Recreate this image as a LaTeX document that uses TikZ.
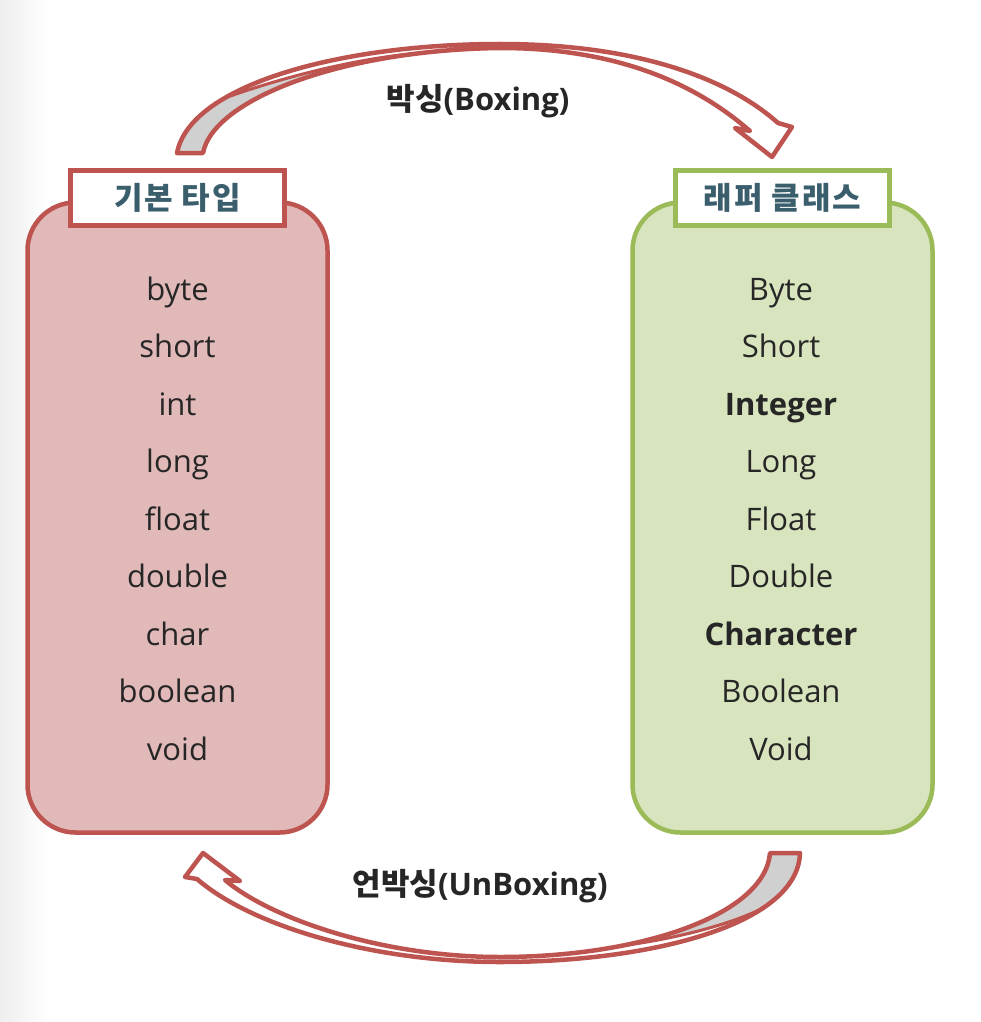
\documentclass[tikz,border=0pt]{standalone}
\usepackage{fontspec}
\setmainfont{Open Sans}
\newfontfamily\kr{Noto Sans CJK KR}
\newfontfamily\krh[LetterSpace=6]{Noto Sans CJK KR}
\definecolor{redline}{HTML}{BE5450}
\definecolor{pinkfill}{HTML}{E0B9B8}
\definecolor{greenline}{HTML}{9BBB59}
\definecolor{greenfill}{HTML}{D8E4BE}
\definecolor{headtxt}{HTML}{3A5E6C}
\definecolor{backgray}{HTML}{D0D0D0}
\definecolor{itemtxt}{HTML}{262626}
\definecolor{striptone}{HTML}{EEEEEE}
\begin{document}
\begin{tikzpicture}[x=1pt,y=-1pt,
  panel/.style={rounded corners=48pt, line width=4.5pt, minimum width=300pt, minimum height=630pt, inner sep=0pt},
  header/.style={fill=white, line width=4.5pt, minimum width=214pt, minimum height=55pt, inner sep=0pt, font=\krh\bfseries\fontsize{31}{31}\selectfont, text=headtxt},
  item/.style={anchor=base, font=\fontsize{31}{31}\selectfont, text=itemtxt, inner sep=0pt},
  bitem/.style={anchor=base, font=\bfseries\fontsize{31}{31}\selectfont, text=itemtxt, inner sep=0pt},
  ribbon/.style={draw=redline, line width=4.5pt, line join=round},
  twist/.style={draw=redline, line width=3pt},
  lbl/.style={font=\bfseries\fontsize{31}{31}\selectfont, text=itemtxt, inner sep=0pt}
]
\useasboundingbox (0,0) rectangle (980,1022);
\fill[white] (0,0) rectangle (980,1022);
\shade[left color=striptone, right color=white] (0,0) rectangle (50,1022);

% ---------- Boxing arrow (top) ----------
\def\topband{(177,153) .. controls (190,85) and (340,44) .. (500,44)
  .. controls (640,44) and (730,80) .. (778,123) -- (792,127) -- (772,157) -- (735,128) -- (750,131)
  .. controls (705,92) and (630,48) .. (500,48) .. controls (340,50) and (213,100) .. (203,153) -- cycle}
\coordinate (btail) at (190,153);
\coordinate (btip) at (772,157);
\fill[white] \topband;
\begin{scope}
  \clip \topband;
  \begin{scope}
    \clip (0,0) -- (222,0) -- (222,99) .. controls (280,78) and (350,60) .. (410,54) -- (410,300) -- (0,300) -- cycle;
    \fill[backgray] (0,0) rectangle (500,300);
  \end{scope}
  \draw[twist] (222,99) .. controls (280,78) and (350,60) .. (410,54);
\end{scope}
\draw[ribbon] \topband;

% ---------- UnBoxing arrow (bottom) ----------
\def\botband{(800,853) .. controls (798,925) and (650,962) .. (500,962)
  .. controls (370,962) and (250,925) .. (197,879) -- (185,877) -- (203,853) -- (240,881) -- (225,880)
  .. controls (270,918) and (380,957) .. (500,957) .. controls (640,957) and (765,915) .. (770,853) -- cycle}
\coordinate (utail) at (785,853);
\coordinate (utip) at (203,853);
\fill[white] \botband;
\begin{scope}
  \clip \botband;
  \begin{scope}
    \clip (619,800) -- (619,946) .. controls (670,940) and (730,925) .. (763,908) -- (763,1000) -- (1000,1000) -- (1000,800) -- cycle;
    \fill[backgray] (500,800) rectangle (1000,1000);
  \end{scope}
  \draw[twist] (619,946) .. controls (670,940) and (730,925) .. (763,908);
\end{scope}
\draw[ribbon] \botband;

\node[lbl] (boxlbl) at (478,101) {{\kr 박싱}(Boxing)};
\node[lbl] (unboxlbl) at (480,886) {{\kr 언박싱}(UnBoxing)};

% ---------- Panels ----------
\node[panel, draw=redline, fill=pinkfill] (prim) at (177.5,517.5) {};
\node[panel, draw=greenline, fill=greenfill] (wrap) at (782.5,517.5) {};
\node[header, draw=redline] (primhead) at (177.5,198) {기본 타입};
\node[header, draw=greenline] (wraphead) at (782.5,198) {래퍼 클래스};

% Primitive types
\node[item] (p0) at (177.5,300) {byte};
\node[item] (p1) at (177.5,357.5) {short};
\node[item] (p2) at (177.5,415) {int};
\node[item] (p3) at (177.5,472.5) {long};
\node[item] (p4) at (177.5,530) {float};
\node[item] (p5) at (177.5,587.5) {double};
\node[item] (p6) at (177.5,645) {char};
\node[item] (p7) at (177.5,702.5) {boolean};
\node[item] (p8) at (177.5,760) {void};

% Wrapper classes
\node[item] (w0) at (781,300) {Byte};
\node[item] (w1) at (781,357.5) {Short};
\node[bitem] (w2) at (781,415) {Integer};
\node[item] (w3) at (781,472.5) {Long};
\node[item] (w4) at (781,530) {Float};
\node[item] (w5) at (781,587.5) {Double};
\node[bitem] (w6) at (781,645) {Character};
\node[item] (w7) at (781,702.5) {Boolean};
\node[item] (w8) at (781,760) {Void};
\end{tikzpicture}
\end{document}
